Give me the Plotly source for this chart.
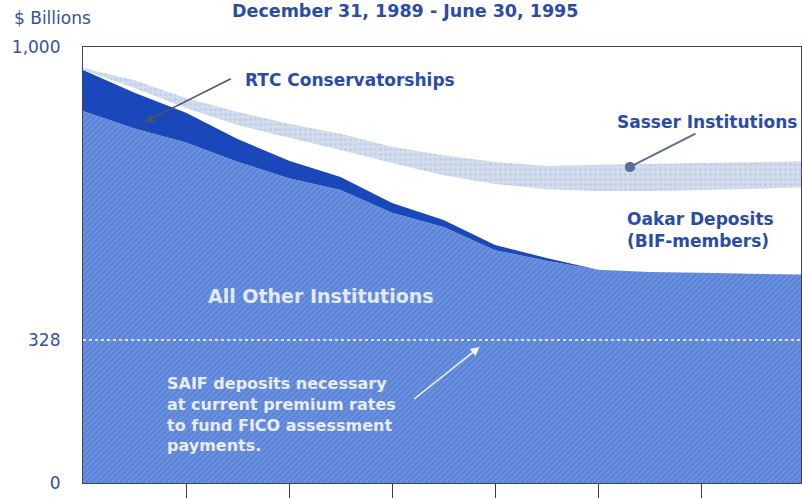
"""
SAIF-insured deposits by institution group, Dec 31, 1989 - Jun 30, 1995.
Stacked area chart in Plotly.
"""

import plotly.graph_objects as go

# half-year steps along the x axis (tick marks sit on whole numbers)
periods = [0, 0.5, 1, 1.5, 2, 2.5, 3, 3.5, 4, 4.5, 5, 5.5, 6, 6.5, 7]

# $ billions
all_other = [853, 813, 781, 737, 699, 672, 620, 587, 534, 510, 489, 484, 482, 480, 478]
rtc = [94, 82, 68, 52, 40, 30, 22, 16, 12, 6, 0, 0, 0, 0, 0]
oakar = [0, 11, 11, 32, 53, 62, 92, 103, 140, 158, 181, 186, 190, 195, 200]
sasser = [5, 18, 23, 30, 32, 37, 37, 46, 50, 53, 60, 62, 62, 62, 60]

fico_level = 328
y_ticks = [0, 328, 1000]
y_tick_text = ['0', '328', '1,000']
x_ticks = [1, 2, 3, 4, 5, 6]

colors = {
    'other': '#5b84d8',
    'other_hatch': '#9ab6ee',
    'rtc': '#1a47b9',
    'sasser': '#d3dced',
    'sasser_dot': '#aebfdb',
    'label': '#2b4ba8',
    'axis_text': '#33529f',
}
FONT = 'DejaVu Sans, Arial, sans-serif'

fig = go.Figure()

fig.add_trace(go.Scatter(
    x=periods, y=all_other, name='All Other Institutions',
    mode='lines', stackgroup='one', line=dict(width=0),
    fillcolor=colors['other'],
    fillpattern=dict(shape='/', bgcolor=colors['other'], fgcolor=colors['other_hatch'],
                     size=4, solidity=0.25),
))
fig.add_trace(go.Scatter(
    x=periods, y=rtc, name='RTC Conservatorships',
    mode='lines', stackgroup='one', line=dict(width=0, color=colors['rtc']),
    fillcolor=colors['rtc'],
))
fig.add_trace(go.Scatter(
    x=periods, y=oakar, name='Oakar Deposits',
    mode='lines', stackgroup='one', line=dict(width=0),
    fillcolor='rgba(255,255,255,0)',
))
fig.add_trace(go.Scatter(
    x=periods, y=sasser, name='Sasser Institutions',
    mode='lines', stackgroup='one', line=dict(width=0),
    fillcolor=colors['sasser'],
    fillpattern=dict(shape='.', bgcolor=colors['sasser'], fgcolor=colors['sasser_dot'],
                     size=5, solidity=0.3),
))

fig.add_hline(y=fico_level, line_dash='dot', line_color='white', line_width=1.5)

label_font = dict(family=FONT, size=17, color=colors['label'])

annotations = [
    dict(text='<b>December 31, 1989 - June 30, 1995</b>', xref='paper', yref='paper',
         x=0.448, y=1.083, xanchor='center', yanchor='middle', showarrow=False,
         font=dict(family=FONT, size=17.5, color=colors['label'])),
    dict(text='$ Billions', xref='paper', yref='paper', x=-0.099, y=1.066,
         xanchor='left', yanchor='middle', showarrow=False,
         font=dict(family=FONT, size=17, color=colors['axis_text'])),
    dict(text='<b>RTC Conservatorships</b>', x=1.55, y=924, xanchor='left', yanchor='middle',
         showarrow=False, font=label_font),
    dict(x=0.60, y=828, ax=1.45, ay=929, axref='x', ayref='y', text='', showarrow=True,
         arrowhead=2, arrowsize=1.2, arrowwidth=1.5, arrowcolor='#4d5466'),
    dict(text='<b>Sasser Institutions</b>', x=5.16, y=828, xanchor='left', yanchor='middle',
         showarrow=False, font=label_font),
    dict(x=5.31, y=725, ax=5.96, ay=803, axref='x', ayref='y', text='', showarrow=True,
         arrowhead=6, arrowsize=1.3, arrowwidth=2, arrowcolor='#5b6f9c'),
    dict(text='<b>Oakar Deposits<br>(BIF-members)</b>', x=5.26, y=581, xanchor='left',
         yanchor='middle', align='left', showarrow=False, font=label_font),
    dict(text='<b>All Other Institutions</b>', x=2.31, y=429, xanchor='center',
         yanchor='middle', showarrow=False,
         font=dict(family=FONT, size=19, color='#e2e9f8')),
    dict(text='<b>SAIF deposits necessary<br>at current premium rates<br>'
              'to fund FICO assessment<br>payments.</b>',
         x=0.80, y=158, xanchor='left', yanchor='middle', align='left', showarrow=False,
         font=dict(family=FONT, size=16, color='#e8edf9')),
    dict(x=3.85, y=312, ax=3.20, ay=190, axref='x', ayref='y', text='', showarrow=True,
         arrowhead=2, arrowsize=1.2, arrowwidth=1.5, arrowcolor='#f4f7fd'),
]

fig.update_layout(
    width=802, height=499,
    margin=dict(l=83, r=1, t=47, b=16),
    paper_bgcolor='white', plot_bgcolor='white',
    showlegend=False,
    annotations=annotations,
    xaxis=dict(
        range=[0, 6.97], tickvals=x_ticks, showticklabels=False,
        ticks='outside', ticklen=14, tickwidth=1.2, tickcolor='#3a3f50',
        showgrid=False, zeroline=False,
        showline=True, mirror=True, linecolor='#3c4560', linewidth=1.2,
    ),
    yaxis=dict(
        range=[0, 1000], tickvals=y_ticks, ticktext=y_tick_text,
        ticks='outside', ticklen=18, tickcolor='rgba(0,0,0,0)',
        tickfont=dict(family=FONT, size=17, color=colors['axis_text']),
        showgrid=False, zeroline=False,
        showline=True, mirror=True, linecolor='#3c4560', linewidth=1.2,
    ),
)

# page body has an 8px default margin; drop it so the figure sits at the corner
fig.write_html("out.html", config={'displayModeBar': False},
               post_script="document.body.style.margin = '0';")
